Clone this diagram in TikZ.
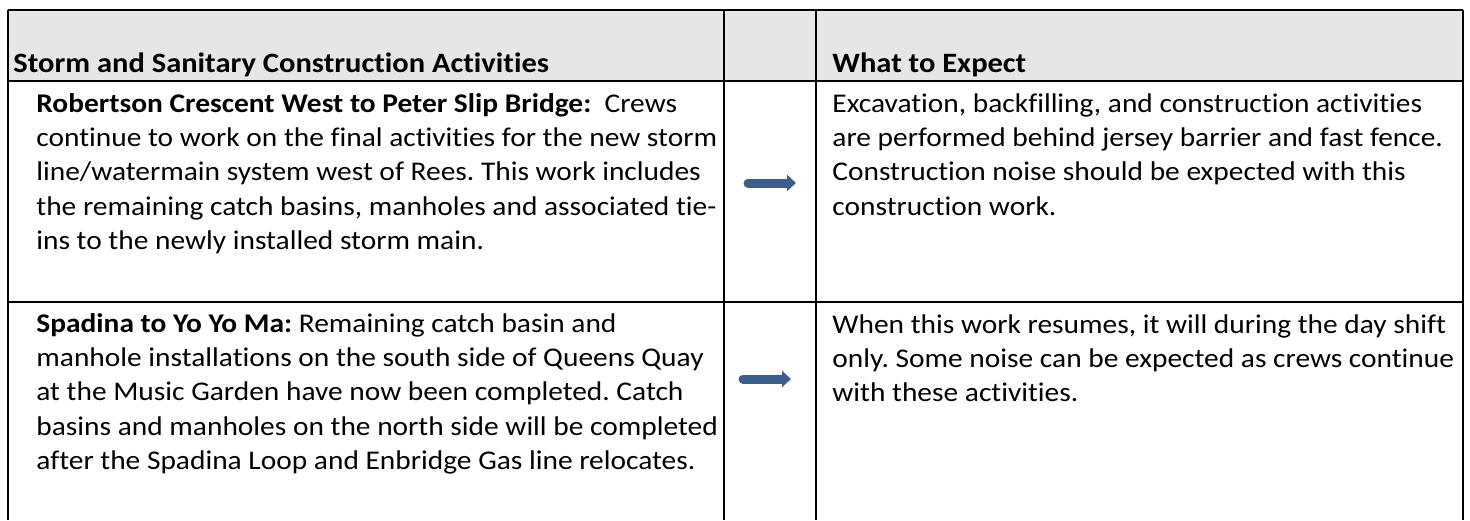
\documentclass[tikz,border=0pt]{standalone}
\usepackage{fontspec}
\setmainfont[FakeStretch=1.09, Ligatures=NoCommon]{Carlito}
\frenchspacing
\usetikzlibrary{arrows.meta}
\definecolor{headgray}{RGB}{230,230,230}
\definecolor{arrowblue}{RGB}{60,94,138}

\begin{document}
\begin{tikzpicture}[x=0.5pt,y=-0.5pt]
      \tikzset{head text/.style={anchor=base west, inner sep=0pt, font=\fontsize{14}{17}\selectfont\bfseries},
               cell text/.style={anchor=base west, align=left, inner sep=0pt, font=\fontsize{13.5}{17.2}\selectfont},
               rule/.style={line width=1pt},
               block arrow/.style={draw=arrowblue, line width=4.5pt, line cap=round, -{Triangle[width=8pt,length=4.5pt]}}}
      \useasboundingbox (0,0) rectangle (1470,520);
      \fill[headgray] (8,10) rectangle (1463,81);
      % table rules
      \draw[rule] (8,10) -- (1463,10);
      \draw[rule] (8,81) -- (1463,81);
      \draw[rule] (8,302) -- (1463,302);
      \foreach \x in {8,724,816,1463}
          \draw[rule] (\x,10) -- (\x,520);
      % header
      \node[head text] (activities) at (13,72) {Storm and Sanitary Construction Activities};
      \node[head text] (expect) at (832,72) {What to Expect};
      % first row (anchor on last baseline)
      \node[cell text] (robertson) at (36,249.6) {\textbf{Robertson Crescent West to Peter Slip Bridge:}\ \ Crews\\
          continue to work on the final activities for the new storm\\
          line/watermain system west of Rees. This work includes\\
          the remaining catch basins, manholes and associated tie-\\
          ins to the newly installed storm main.};
      \node[cell text] (excavation) at (832,215.2) {Excavation, backfilling, and construction activities\\
          are performed behind jersey barrier and fast fence.\\
          Construction noise should be expected with this\\
          construction work.};
      % second row
      \node[cell text] (spadina) at (36,469.6) {\textbf{Spadina to Yo Yo Ma:} Remaining catch basin and\\
          manhole installations on the south side of Queens Quay\\
          at the Music Garden have now been completed. Catch\\
          basins and manholes on the north side will be completed\\
          after the Spadina Loop and Enbridge Gas line relocates.};
      \node[cell text] (resumes) at (832,401.8) {When this work resumes, it will during the day shift\\
          only. Some noise can be expected as crews continue\\
          with these activities.};
      % arrows
      \coordinate (arrowA start) at (748,183);
      \coordinate (arrowA end) at (796,183);
      \coordinate (arrowB start) at (743,379);
      \coordinate (arrowB end) at (791,379);
      \draw[block arrow] (arrowA start) -- (arrowA end);
      \draw[block arrow] (arrowB start) -- (arrowB end);
\end{tikzpicture}
\end{document}
